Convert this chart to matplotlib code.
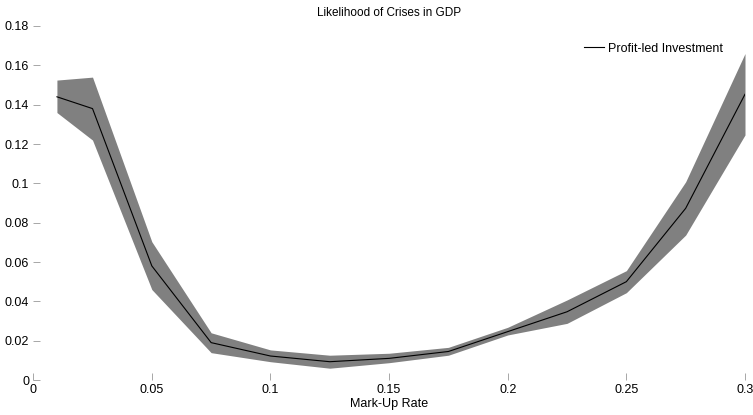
import matplotlib
matplotlib.use("Agg")
import matplotlib.pyplot as plt

plt.rcParams['font.family'] = ['Liberation Sans', 'DejaVu Sans']

# mark-up rate grid and crisis likelihood (mean + band)
markup = [0.01, 0.025, 0.05, 0.075, 0.1, 0.125, 0.15, 0.175, 0.2, 0.225, 0.25, 0.275, 0.3]
mean = [0.144, 0.138, 0.058, 0.019, 0.0122, 0.0093, 0.011, 0.0145, 0.0246, 0.0347, 0.050, 0.0873, 0.1453]
upper = [0.1525, 0.154, 0.0703, 0.024, 0.0153, 0.0126, 0.0136, 0.0166, 0.0268, 0.0407, 0.0556, 0.1008, 0.166]
lower = [0.136, 0.122, 0.046, 0.0139, 0.0093, 0.006, 0.0088, 0.0126, 0.0229, 0.0288, 0.0444, 0.0737, 0.1246]

xticks = [0, 0.05, 0.1, 0.15, 0.2, 0.25, 0.3]
xticklabels = ['0', '0.05', '0.1', '0.15', '0.2', '0.25', '0.3']
yticks = [0, 0.02, 0.04, 0.06, 0.08, 0.1, 0.12, 0.14, 0.16, 0.18]
yticklabels = ['0', '0.02', '0.04', '0.06', '0.08', '0.1', '0.12', '0.14', '0.16', '0.18']

fig = plt.figure(figsize=(7.53, 4.15), dpi=100)
ax = fig.add_axes([33.2 / 753, 35 / 415, (745 - 33.2) / 753, (380 - 26) / 415])

ax.fill_between(markup, lower, upper, color='#808080', linewidth=0)
ax.plot(markup, mean, color='black', linewidth=0.8, label='Profit-led Investment')

ax.set_xlim(0, 0.3)
ax.set_ylim(0, 0.18)
ax.set_xticks(xticks)
ax.set_xticklabels(xticklabels)
ax.set_yticks(yticks)
ax.set_yticklabels(yticklabels)
for s in ax.spines.values():
    s.set_visible(False)
ax.tick_params(direction='in', length=5, width=0.6, color='#999999', labelsize=9, pad=3)

ax.set_xlabel('Mark-Up Rate', fontsize=9, labelpad=1)
ax.set_title('Likelihood of Crises in GDP', fontsize=8.5, pad=7)

leg = ax.legend(loc='upper right', frameon=False, fontsize=9, handlelength=1.6,
                handletextpad=0.3, bbox_to_anchor=(0.985, 0.985))

fig.savefig('out.png', dpi=100)
